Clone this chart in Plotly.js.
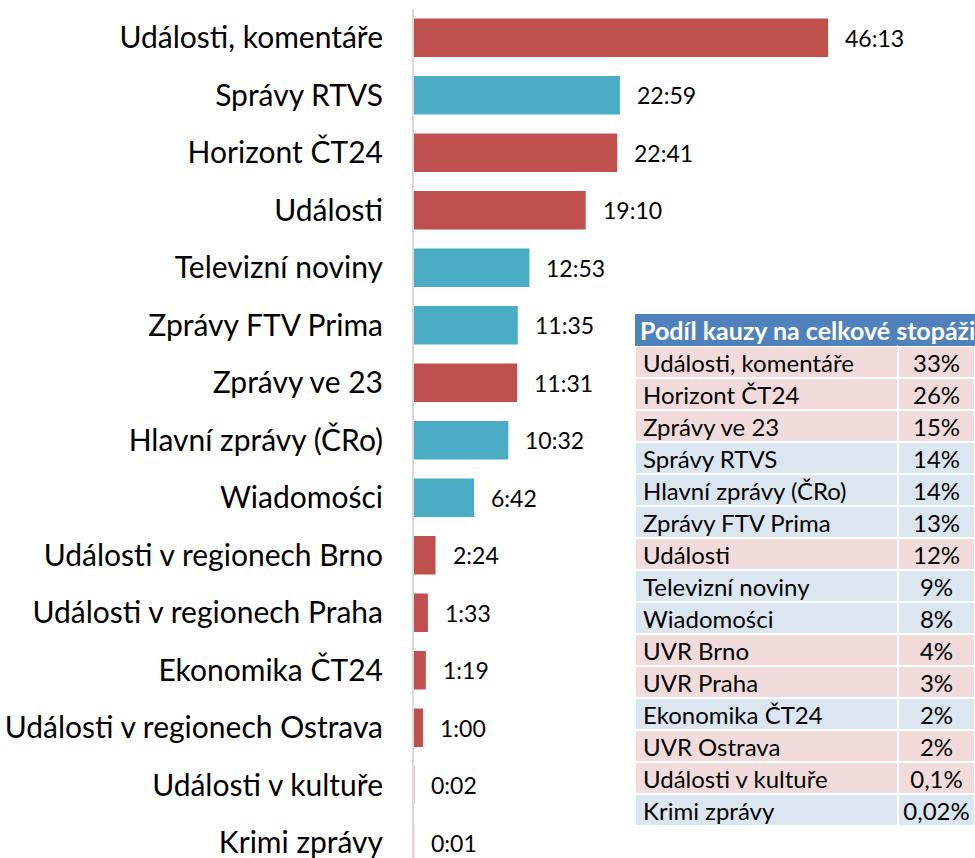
<!DOCTYPE html>
<html>
<head>
<meta charset="utf-8">
<script src="https://cdn.plot.ly/plotly-3.0.1.min.js"></script>
<style>html,body{margin:0;padding:0;background:#fff}#chart{width:975px;height:858px}</style>
</head>
<body>
<div id="chart"></div>
<script>
// Bar chart data
const categories = ["Události, komentáře","Správy RTVS","Horizont ČT24","Události","Televizní noviny","Zprávy FTV Prima","Zprávy ve 23","Hlavní zprávy (ČRo)","Wiadomości","Události v regionech Brno","Události v regionech Praha","Ekonomika ČT24","Události v regionech Ostrava","Události v kultuře","Krimi zprávy"];
const durationLabels = ["46:13","22:59","22:41","19:10","12:53","11:35","11:31","10:32","6:42","2:24","1:33","1:19","1:00","0:02","0:01"];
const durationSeconds = [2773,1379,1361,1150,773,695,691,632,402,144,93,79,60,2,1];
const barGroup = ["cz","sk","cz","cz","sk","sk","cz","sk","sk","cz","cz","cz","cz","cz","cz"];

// Table data
const tableTitle = "Podíl kauzy na celkové stopáži";
const tableNames = ["Události, komentáře","Horizont ČT24","Zprávy ve 23","Správy RTVS","Hlavní zprávy (ČRo)","Zprávy FTV Prima","Události","Televizní noviny","Wiadomości","UVR Brno","UVR Praha","Ekonomika ČT24","UVR Ostrava","Události v kultuře","Krimi zprávy"];
const tableShares = ["33%","26%","15%","14%","14%","13%","12%","9%","8%","4%","3%","2%","2%","0,1%","0,02%"];
const tableGroup = ["cz","cz","cz","sk","sk","sk","cz","sk","sk","cz","cz","sk","cz","cz","sk"];

const barColors = {cz:"#C0504D", sk:"#4BACC6"};
const rowColors = {cz:"#F2DCDB", sk:"#DCE6F1"};
const headerColor = "#4F81BD";
const FONT = "Lato, 'Noto Sans', sans-serif";

const W = 975, H = 858, L = 414, T = 9;
const plotW = W - L, plotH = H - T;
const xMax = 3757;

const bar = {
  type: "bar", orientation: "h",
  x: durationSeconds, y: categories,
  marker: {color: barGroup.map(g => barColors[g])},
  width: 0.67, hoverinfo: "skip"
};

const rowFill = tableGroup.map(g => rowColors[g]);
const tableTop = 314, tableBottom = 832, tableLeft = 635;
const table = {
  type: "table",
  domain: {x: [(tableLeft - L) / plotW, 1], y: [(H - tableBottom) / plotH, (H - tableTop) / plotH]},
  columnwidth: [263, 77],
  header: {
    values: ["", ""], height: 32,
    fill: {color: headerColor},
    line: {color: headerColor, width: 0},
    font: {family: FONT, size: 24, color: "#fff"}
  },
  cells: {
    values: [tableNames, tableShares],
    align: ["left", "center"],
    height: 32,
    fill: {color: [rowFill, rowFill]},
    line: {color: "#FFFFFF", width: 2},
    font: {family: FONT, size: 24, color: "#000"}
  }
};

const annotations = durationSeconds.map((v, i) => ({
  x: v, y: categories[i], xref: "x", yref: "y",
  text: durationLabels[i], showarrow: false,
  xanchor: "left", yanchor: "middle", xshift: 15,
  font: {family: FONT, size: 23, color: "#000"}
}));
annotations.push({
  xref: "paper", yref: "paper",
  x: (tableLeft + 3 - L) / plotW, y: (H - 330) / plotH,
  xanchor: "left", yanchor: "middle",
  text: "<b>" + tableTitle + "</b>", showarrow: false,
  font: {family: FONT, size: 25, color: "#FFFFFF"}
});

const layout = {
  width: W, height: H,
  margin: {l: L, r: 0, t: T, b: 0, pad: 0},
  paper_bgcolor: "#fff", plot_bgcolor: "#fff",
  showlegend: false,
  xaxis: {range: [0, xMax], visible: false, fixedrange: true},
  yaxis: {
    type: "category", range: [14.265, -0.5],
    showline: true, linecolor: "#D9D9D9", linewidth: 2,
    showgrid: false, zeroline: false, ticks: "",
    ticklabelstandoff: 23,
    tickfont: {family: FONT, size: 30, color: "#000"},
    fixedrange: true
  },
  annotations: annotations
};

Plotly.newPlot("chart", [bar, table], layout, {displayModeBar: false, staticPlot: true});
</script>
</body>
</html>
